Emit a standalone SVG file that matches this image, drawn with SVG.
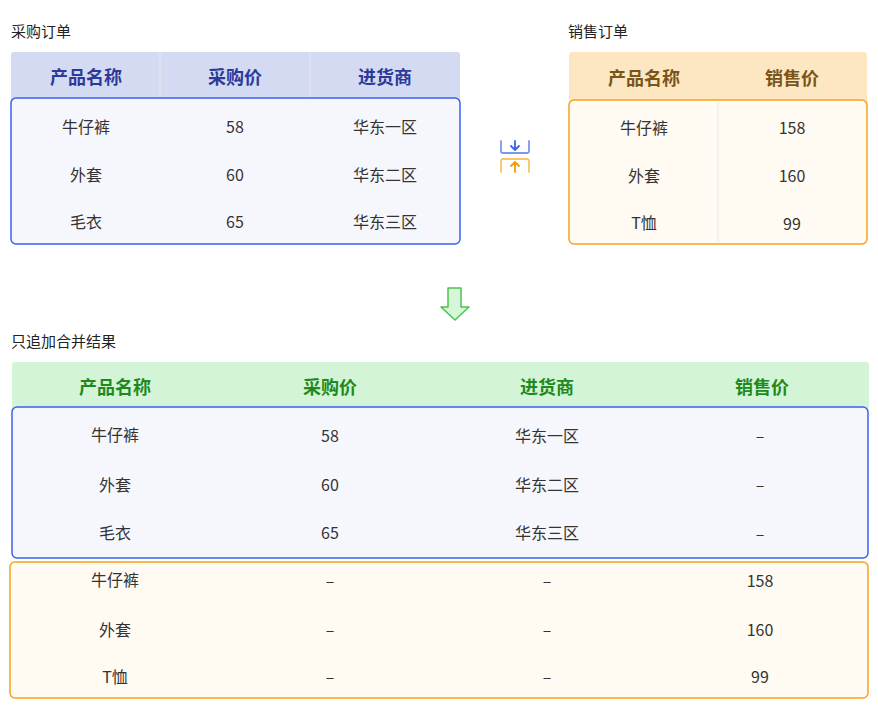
<svg xmlns="http://www.w3.org/2000/svg" width="878" height="710" viewBox="0 0 878 710">
<style>
text{font-family:"Noto Sans CJK SC","Noto Sans",sans-serif;text-anchor:middle;dominant-baseline:central}
.t{font-size:15px;fill:#222;text-anchor:start}
.h{font-size:18px;font-weight:bold}
.hb{fill:#2b3a9a}.ho{fill:#7a5418}.hg{fill:#1e8a1e}
.c{font-size:16px;fill:#333}
.bb{fill:#f6f7fd;stroke:#3a62ee;stroke-width:1.5}
.bo{fill:#fffaf2;stroke:#f5a21e;stroke-width:1.5}
.dv{stroke:#e8e8ee;stroke-width:1}
</style>
<rect width="878" height="710" fill="#fff"/>
<g id="purchase">
<text class="t" x="11" y="30">采购订单</text>
<rect x="11" y="52" width="449" height="50" rx="3" fill="#d5daf3"/>
<line class="dv" x1="160" y1="52" x2="160" y2="98" stroke="#e4e8f8"/><line class="dv" x1="310" y1="52" x2="310" y2="98"/>
<text class="h hb" x="86" y="76">产品名称</text><text class="h hb" x="235" y="76">采购价</text><text class="h hb" x="385" y="76">进货商</text>
<rect class="bb" x="11" y="98" width="449" height="146" rx="5"/>
<text class="c" x="86" y="126">牛仔裤</text><text class="c" x="235" y="126">58</text><text class="c" x="385" y="126">华东一区</text>
<text class="c" x="86" y="174">外套</text><text class="c" x="235" y="174">60</text><text class="c" x="385" y="174">华东二区</text>
<text class="c" x="86" y="221">毛衣</text><text class="c" x="235" y="221">65</text><text class="c" x="385" y="221">华东三区</text>
</g>
<g id="sales">
<text class="t" x="568" y="30">销售订单</text>
<rect x="569" y="52" width="298" height="52" rx="3" fill="#fde7c3"/>
<text class="h ho" x="644" y="77">产品名称</text><text class="h ho" x="792" y="77">销售价</text>
<rect class="bo" x="569" y="100" width="298" height="144" rx="5"/>
<line class="dv" x1="718" y1="102" x2="718" y2="242" stroke="#f5efe4"/>
<text class="c" x="644" y="127">牛仔裤</text><text class="c" x="792" y="127">158</text>
<text class="c" x="644" y="175">外套</text><text class="c" x="792" y="175">160</text>
<text class="c" x="644" y="222">T恤</text><text class="c" x="792" y="223">99</text>
</g>
<g id="merge-icon" fill="none" stroke-width="1.8" stroke-linecap="round" stroke-linejoin="round">
<path d="M501 141 V151 Q501 153 503 153 H527 Q529 153 529 151 V141" stroke="#7b97f5"/>
<path d="M515 141 V149 M511 146 L515 150 L519 146" stroke="#3a62ee"/>
<path d="M501 172 V162 Q501 159 503 159 H527 Q529 159 529 162 V172" stroke="#fbc46a"/>
<path d="M515 172 V163 M511 166 L515 162 L519 166" stroke="#f59a10"/>
</g>
<g id="connectors">
<path d="M448 288 H461 V307 H469 L455 320 L441 307 H448 Z" fill="#d7f5d8" stroke="#4cc44c" stroke-width="1.5" stroke-linejoin="round"/>
</g>
<g id="result">
<text class="t" x="11" y="340">只追加合并结果</text>
<rect x="12" y="362" width="857" height="48" rx="3" fill="#d4f4d7"/>
<text class="h hg" x="115" y="386">产品名称</text><text class="h hg" x="330" y="386">采购价</text><text class="h hg" x="547" y="386">进货商</text><text class="h hg" x="762" y="386">销售价</text>
<rect class="bb" x="12" y="407" width="856" height="151" rx="5"/>
<rect class="bo" x="10" y="562" width="858" height="136" rx="5"/>
<text class="c" x="115" y="434">牛仔裤</text><text class="c" x="330" y="435">58</text><text class="c" x="547" y="435">华东一区</text><text class="c" x="760" y="435">–</text>
<text class="c" x="115" y="484">外套</text><text class="c" x="330" y="484">60</text><text class="c" x="547" y="484">华东二区</text><text class="c" x="760" y="484">–</text>
<text class="c" x="115" y="532">毛衣</text><text class="c" x="330" y="532">65</text><text class="c" x="547" y="532">华东三区</text><text class="c" x="760" y="533">–</text>
<text class="c" x="115" y="579">牛仔裤</text><text class="c" x="330" y="580">–</text><text class="c" x="547" y="580">–</text><text class="c" x="760" y="580">158</text>
<text class="c" x="115" y="629">外套</text><text class="c" x="330" y="629">–</text><text class="c" x="547" y="629">–</text><text class="c" x="760" y="629">160</text>
<text class="c" x="115" y="676">T恤</text><text class="c" x="330" y="676">–</text><text class="c" x="547" y="676">–</text><text class="c" x="760" y="676">99</text>
</g>
</svg>
